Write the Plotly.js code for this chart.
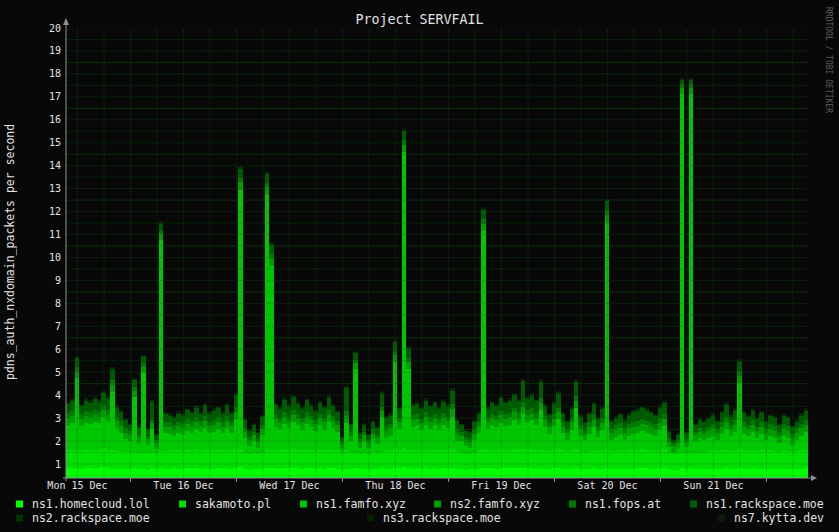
<!DOCTYPE html>
<html><head><meta charset="utf-8">
<script src="https://cdn.plot.ly/plotly-3.0.1.min.js"></script>
<style>html,body{margin:0;padding:0;background:#080808;}#chart{width:839px;height:532px;}</style>
</head><body><div id="chart"></div>
<script>
// ---------------- DATA ----------------
const seriesNames = ['ns1.homecloud.lol','sakamoto.pl','ns1.famfo.xyz','ns2.famfo.xyz','ns1.fops.at','ns1.rackspace.moe','ns2.rackspace.moe','ns3.rackspace.moe','ns7.kytta.dev'];
const dayLabels = ['Mon 15 Dec','Tue 16 Dec','Wed 17 Dec','Thu 18 Dec','Fri 19 Dec','Sat 20 Dec','Sun 21 Dec'];
const yTickLabels = ['1','2','3','4','5','6','7','8','9','10','11','12','13','14','15','16','17','18','19','20'];

// hourly values (packets/s), starting Mon 15 Dec 09:24
const homecloud = [
0.82,0.80,0.84,0.79,0.81,0.83,0.80,0.82,0.85,0.81,0.80,0.78,
0.79,0.77,0.80,0.82,0.78,0.80,0.76,0.81,0.78,0.84,0.80,0.79,
0.81,0.80,0.78,0.82,0.80,0.83,0.79,0.81,0.80,0.78,0.82,0.80,
0.81,0.79,0.83,0.85,0.78,0.76,0.79,0.77,0.80,0.84,0.82,0.81,
0.80,0.83,0.81,0.84,0.82,0.80,0.83,0.81,0.79,0.82,0.80,0.84,
0.81,0.79,0.76,0.80,0.78,0.82,0.77,0.79,0.76,0.80,0.78,0.81,
0.80,0.79,0.83,0.81,0.86,0.82,0.80,0.82,0.79,0.81,0.80,0.82,
0.79,0.81,0.80,0.83,0.79,0.78,0.76,0.77,0.79,0.80,0.84,0.81,
0.82,0.80,0.83,0.81,0.82,0.84,0.81,0.83,0.82,0.84,0.80,0.83,
0.80,0.78,0.81,0.83,0.79,0.77,0.80,0.82,0.78,0.77,0.79,0.81,
0.78,0.80,0.84,0.77,0.79,0.80,0.78,0.79,0.80,0.81,0.82,0.81,
0.80,0.79,0.81,0.82,0.77,0.75,0.76,0.82,0.77,0.83,0.78,0.79,
0.78,0.79,0.80,0.78,0.80,0.82,0.79,0.80,0.83,0.80,0.79,0.81,
0.79,0.80,0.78,0.80,0.79,0.77,0.80,0.79,0.77,0.78,0.80,0.81];
const sakamoto = [
0.80,0.82,0.79,0.81,0.83,0.80,0.82,0.81,0.84,0.82,0.80,0.79,
0.78,0.76,0.72,0.70,0.71,0.69,0.70,0.72,0.68,0.71,0.78,0.80,
0.79,0.81,0.80,0.82,0.80,0.81,0.79,0.82,0.80,0.81,0.80,0.79,
0.82,0.80,0.83,0.81,0.72,0.69,0.71,0.68,0.72,0.80,0.81,0.82,
0.81,0.83,0.80,0.82,0.81,0.80,0.83,0.81,0.79,0.82,0.80,0.83,
0.81,0.80,0.69,0.80,0.71,0.70,0.68,0.71,0.69,0.72,0.70,0.73,
0.79,0.80,0.81,0.80,0.82,0.81,0.80,0.82,0.80,0.81,0.79,0.82,
0.80,0.81,0.80,0.83,0.78,0.71,0.69,0.68,0.72,0.79,0.81,0.80,
0.81,0.80,0.82,0.81,0.80,0.83,0.81,0.84,0.82,0.81,0.80,0.83,
0.80,0.79,0.81,0.82,0.80,0.78,0.80,0.82,0.79,0.71,0.78,0.80,
0.79,0.80,0.81,0.78,0.79,0.80,0.78,0.80,0.81,0.80,0.82,0.81,
0.80,0.79,0.81,0.82,0.71,0.68,0.69,0.70,0.70,0.71,0.72,0.71,
0.72,0.78,0.79,0.77,0.80,0.81,0.78,0.80,0.81,0.79,0.78,0.80,
0.78,0.79,0.77,0.79,0.78,0.76,0.79,0.78,0.76,0.77,0.79,0.80];
const famfo1 = [
1.10,1.15,3.10,1.05,1.15,1.10,1.20,1.15,1.35,1.20,2.55,1.00,
0.80,0.55,0.50,2.40,0.40,3.50,0.35,1.00,0.20,9.20,0.75,0.70,
0.60,0.75,0.70,0.80,0.75,0.90,0.80,0.95,0.75,0.80,0.90,0.75,
0.95,0.75,1.30,11.30,0.65,0.35,0.50,0.25,0.75,11.10,8.00,1.00,
0.90,1.10,0.95,1.15,1.05,0.90,1.10,1.00,0.85,1.05,0.90,1.15,
0.95,0.80,0.15,1.20,0.50,3.60,0.25,0.50,0.20,0.55,0.40,1.50,
0.55,0.65,3.80,0.90,12.90,3.50,1.00,1.05,0.90,1.10,0.95,1.05,
0.90,1.10,0.95,1.40,0.45,0.50,0.35,0.25,0.55,0.75,9.50,0.90,
1.05,1.00,1.15,1.05,1.10,1.25,1.10,1.50,1.20,1.25,1.10,1.70,
1.00,0.75,1.05,1.30,0.75,0.50,0.90,1.80,0.65,0.55,0.75,1.00,
0.60,0.90,9.90,0.50,0.60,0.65,0.50,0.65,0.70,0.75,0.80,0.75,
0.70,0.65,0.85,1.00,0.25,0.10,0.20,15.60,0.25,15.60,0.50,0.65,
0.55,0.55,0.65,0.50,0.70,0.90,0.65,0.80,2.90,0.70,0.65,0.80,
0.55,0.70,0.50,0.65,0.55,0.40,0.65,0.55,0.30,0.50,0.65,0.80];
const famfo2 = [
0.30,0.32,0.29,0.31,0.30,0.33,0.31,0.29,0.32,0.30,0.31,0.30,
0.29,0.28,0.25,0.26,0.24,0.25,0.26,0.24,0.25,0.26,0.30,0.31,
0.30,0.29,0.31,0.30,0.32,0.30,0.29,0.31,0.30,0.32,0.30,0.29,
0.31,0.30,0.32,0.31,0.26,0.24,0.25,0.24,0.26,0.31,0.30,0.32,
0.30,0.31,0.29,0.32,0.30,0.31,0.30,0.29,0.31,0.30,0.32,0.30,
0.31,0.29,0.24,0.30,0.25,0.26,0.24,0.25,0.26,0.24,0.25,0.27,
0.30,0.31,0.29,0.30,0.32,0.30,0.31,0.29,0.30,0.32,0.30,0.31,
0.30,0.29,0.31,0.32,0.29,0.25,0.24,0.26,0.25,0.30,0.31,0.30,
0.31,0.30,0.32,0.30,0.31,0.33,0.30,0.32,0.31,0.30,0.32,0.31,
0.30,0.29,0.31,0.30,0.29,0.30,0.31,0.32,0.29,0.25,0.30,0.31,
0.29,0.30,0.31,0.29,0.30,0.31,0.30,0.31,0.32,0.31,0.32,0.31,
0.30,0.31,0.30,0.32,0.25,0.24,0.25,0.26,0.24,0.26,0.25,0.26,
0.25,0.30,0.31,0.29,0.30,0.32,0.30,0.31,0.30,0.31,0.29,0.30,
0.30,0.31,0.29,0.30,0.31,0.29,0.30,0.31,0.29,0.30,0.31,0.30];
const fops = [
0.20,0.21,0.19,0.20,0.22,0.20,0.21,0.19,0.20,0.22,0.20,0.19,
0.20,0.19,0.15,0.16,0.14,0.15,0.16,0.15,0.14,0.16,0.20,0.21,
0.19,0.20,0.21,0.20,0.19,0.21,0.20,0.22,0.20,0.19,0.21,0.20,
0.21,0.20,0.22,0.20,0.16,0.14,0.15,0.14,0.16,0.20,0.21,0.20,
0.20,0.21,0.20,0.22,0.20,0.19,0.21,0.20,0.19,0.21,0.20,0.22,
0.20,0.19,0.14,0.20,0.15,0.16,0.14,0.15,0.14,0.16,0.15,0.16,
0.20,0.21,0.20,0.19,0.21,0.20,0.22,0.20,0.19,0.21,0.20,0.20,
0.21,0.20,0.19,0.22,0.20,0.15,0.14,0.15,0.16,0.20,0.21,0.20,
0.20,0.21,0.20,0.22,0.21,0.20,0.22,0.21,0.20,0.22,0.21,0.20,
0.21,0.19,0.20,0.21,0.20,0.19,0.20,0.21,0.20,0.15,0.19,0.20,
0.20,0.21,0.20,0.19,0.20,0.21,0.20,0.21,0.22,0.21,0.22,0.20,
0.21,0.20,0.22,0.21,0.15,0.14,0.15,0.16,0.14,0.15,0.16,0.15,
0.16,0.20,0.21,0.20,0.21,0.22,0.20,0.21,0.20,0.21,0.20,0.21,
0.20,0.21,0.19,0.20,0.21,0.19,0.20,0.21,0.19,0.20,0.21,0.20];
const rackspace1 = [
0.40,0.45,0.40,0.35,0.45,0.40,0.50,0.45,0.55,0.50,0.45,0.40,
0.40,0.35,0.30,0.30,0.30,0.30,0.25,0.80,0.20,0.30,0.35,0.30,
0.30,0.35,0.30,0.40,0.35,0.40,0.30,0.45,0.35,0.40,0.40,0.35,
0.45,0.35,0.50,0.40,0.35,0.25,0.30,0.25,0.35,0.40,0.40,0.40,
0.40,0.50,0.45,0.55,0.45,0.40,0.50,0.40,0.35,0.45,0.40,0.55,
0.45,0.40,0.15,1.00,0.30,0.30,0.25,0.30,0.20,0.35,0.30,0.60,
0.35,0.35,0.40,0.40,0.40,0.40,0.40,0.45,0.40,0.50,0.45,0.45,
0.40,0.50,0.45,0.60,0.35,0.30,0.25,0.25,0.35,0.35,0.40,0.40,
0.45,0.40,0.55,0.45,0.50,0.55,0.50,0.90,0.50,0.55,0.50,0.70,
0.40,0.35,0.45,0.60,0.35,0.30,0.40,0.60,0.35,0.35,0.35,0.50,
0.30,0.40,0.40,0.30,0.30,0.35,0.30,0.35,0.40,0.45,0.45,0.45,
0.40,0.35,0.45,0.50,0.25,0.10,0.20,0.20,0.25,0.20,0.30,0.35,
0.35,0.35,0.35,0.30,0.40,0.50,0.35,0.40,0.40,0.40,0.35,0.40,
0.35,0.40,0.30,0.35,0.35,0.30,0.35,0.35,0.30,0.30,0.35,0.40];
const rackspace2 = [
0.05,0.06,0.05,0.04,0.06,0.05,0.05,0.06,0.04,0.05,0.06,0.05,
0.05,0.04,0.04,0.05,0.04,0.03,0.04,0.05,0.04,0.05,0.05,0.06,
0.05,0.04,0.06,0.05,0.05,0.06,0.04,0.05,0.05,0.06,0.05,0.04,
0.06,0.05,0.05,0.06,0.04,0.04,0.03,0.04,0.05,0.05,0.06,0.05,
0.05,0.06,0.05,0.05,0.04,0.06,0.05,0.05,0.06,0.04,0.05,0.06,
0.05,0.04,0.03,0.05,0.04,0.04,0.03,0.04,0.04,0.05,0.04,0.05,
0.05,0.06,0.05,0.04,0.05,0.05,0.06,0.05,0.04,0.06,0.05,0.05,
0.06,0.05,0.05,0.06,0.05,0.04,0.03,0.04,0.04,0.05,0.05,0.06,
0.05,0.06,0.05,0.05,0.06,0.05,0.06,0.05,0.05,0.06,0.05,0.06,
0.05,0.04,0.05,0.06,0.05,0.04,0.05,0.06,0.05,0.04,0.05,0.05,
0.04,0.05,0.05,0.04,0.05,0.05,0.04,0.05,0.06,0.05,0.05,0.06,
0.05,0.05,0.06,0.05,0.04,0.03,0.04,0.04,0.03,0.04,0.04,0.05,
0.04,0.05,0.05,0.04,0.05,0.06,0.05,0.05,0.05,0.06,0.05,0.05,
0.05,0.04,0.05,0.05,0.04,0.05,0.05,0.04,0.04,0.05,0.05,0.06];
const rackspace3 = [
0.03,0.03,0.04,0.03,0.02,0.03,0.04,0.03,0.03,0.04,0.03,0.03,
0.03,0.02,0.02,0.03,0.02,0.02,0.03,0.02,0.02,0.03,0.03,0.03,
0.03,0.04,0.03,0.03,0.02,0.03,0.03,0.04,0.03,0.03,0.04,0.03,
0.03,0.03,0.04,0.03,0.02,0.02,0.03,0.02,0.03,0.03,0.04,0.03,
0.03,0.04,0.03,0.03,0.04,0.03,0.03,0.04,0.03,0.03,0.04,0.03,
0.03,0.03,0.02,0.03,0.02,0.03,0.02,0.02,0.02,0.03,0.02,0.03,
0.03,0.03,0.04,0.03,0.04,0.03,0.03,0.04,0.03,0.03,0.03,0.04,
0.03,0.04,0.03,0.04,0.03,0.02,0.02,0.02,0.03,0.03,0.04,0.03,
0.03,0.04,0.03,0.03,0.04,0.03,0.04,0.03,0.03,0.04,0.03,0.04,
0.03,0.03,0.04,0.03,0.03,0.02,0.03,0.04,0.03,0.02,0.03,0.03,
0.03,0.03,0.04,0.02,0.03,0.03,0.03,0.03,0.04,0.03,0.03,0.04,
0.03,0.03,0.04,0.03,0.02,0.02,0.02,0.03,0.02,0.03,0.02,0.03,
0.02,0.03,0.03,0.03,0.03,0.04,0.03,0.03,0.04,0.03,0.03,0.03,
0.03,0.03,0.02,0.03,0.03,0.02,0.03,0.03,0.02,0.03,0.03,0.04];
const kytta = [
0.02,0.02,0.01,0.02,0.02,0.03,0.02,0.02,0.02,0.01,0.02,0.02,
0.02,0.01,0.01,0.02,0.01,0.01,0.02,0.01,0.01,0.02,0.02,0.02,
0.02,0.02,0.03,0.02,0.02,0.02,0.01,0.02,0.02,0.03,0.02,0.02,
0.02,0.02,0.02,0.03,0.01,0.01,0.01,0.02,0.01,0.02,0.02,0.02,
0.02,0.02,0.03,0.02,0.02,0.02,0.02,0.03,0.02,0.02,0.02,0.03,
0.02,0.02,0.01,0.02,0.01,0.02,0.01,0.01,0.01,0.02,0.01,0.02,
0.02,0.02,0.02,0.02,0.03,0.02,0.02,0.02,0.02,0.03,0.02,0.02,
0.02,0.02,0.03,0.02,0.02,0.01,0.01,0.01,0.02,0.02,0.02,0.02,
0.02,0.03,0.02,0.02,0.02,0.03,0.02,0.02,0.03,0.02,0.02,0.02,
0.02,0.02,0.02,0.03,0.02,0.01,0.02,0.02,0.02,0.01,0.02,0.02,
0.02,0.02,0.02,0.01,0.02,0.02,0.02,0.02,0.02,0.03,0.02,0.02,
0.02,0.02,0.02,0.02,0.01,0.01,0.01,0.02,0.01,0.02,0.01,0.02,
0.01,0.02,0.02,0.02,0.02,0.02,0.02,0.02,0.03,0.02,0.02,0.02,
0.02,0.02,0.01,0.02,0.02,0.02,0.02,0.02,0.01,0.02,0.02,0.02];

// ---------------- STYLE / LAYOUT ----------------
const seriesColors = ['#00ff00','#00e000','#00c800','#009e00','#007a00','#005a00','#003400','#002200','#0c190c'];
const FONT = 'DejaVu Sans Mono';
const BG = '#080808';
const TXT = '#e2e2e2';
const HOUR = 3600000;
const START = Date.UTC(2025, 11, 15, 9, 24);
const END = START + 168 * HOUR;
const PL = 66, PR = 808, PT = 28, PB = 478;
const px2x = p => (p - PL) / (PR - PL);
const py2y = p => (PB - p) / (PB - PT);

const series = [homecloud, sakamoto, famfo1, famfo2, fops, rackspace1, rackspace2, rackspace3, kytta];
const times = homecloud.map((_, i) => START + (i + 0.5) * HOUR);

const traces = series.map((vals, i) => ({
  type: 'bar', x: times, y: vals, width: HOUR, name: seriesNames[i],
  marker: {color: seriesColors[i], line: {width: 0}},
  showlegend: false, hoverinfo: 'skip'
}));

const shapes = [];
const gridMinor = 'rgba(0,95,0,0.55)';
const gridMajor = 'rgba(0,150,0,0.55)';
// vertical grid every 6 hours
for (let t = Date.UTC(2025, 11, 15, 12); t < END; t += 6 * HOUR) {
  shapes.push({type: 'line', xref: 'x', yref: 'paper', x0: t, x1: t, y0: 0, y1: 1, layer: 'above',
    line: {color: gridMinor, width: 1, dash: '1px,1px'}});
}
// horizontal grid every 0.5, brighter every 2 starting at 0.5
for (let k = 1; k <= 40; k++) {
  const v = k * 0.5;
  const major = ((k - 1) % 4 === 0);
  shapes.push({type: 'line', xref: 'paper', yref: 'y', x0: 0, x1: 1, y0: v, y1: v, layer: 'above',
    line: {color: major ? gridMajor : gridMinor, width: 1, dash: '1px,1px'}});
}
// day ticks below x axis
for (let d = 16; d <= 22; d++) {
  const t = Date.UTC(2025, 11, d, 0);
  shapes.push({type: 'line', xref: 'x', yref: 'paper', x0: t, x1: t, y0: 0, y1: py2y(482), layer: 'above',
    line: {color: '#909090', width: 1}});
}
// axis lines with arrows
const axisCol = '#909090';
shapes.push({type: 'line', xref: 'paper', yref: 'paper', x0: px2x(66), x1: px2x(66), y0: py2y(481), y1: py2y(22), layer: 'above', line: {color: axisCol, width: 1}});
shapes.push({type: 'line', xref: 'paper', yref: 'paper', x0: px2x(63), x1: px2x(812), y0: py2y(478), y1: py2y(478), layer: 'above', line: {color: axisCol, width: 1}});
shapes.push({type: 'path', xref: 'paper', yref: 'paper', layer: 'above', fillcolor: axisCol, line: {width: 0},
  path: `M ${px2x(63)},${py2y(25)} L ${px2x(69)},${py2y(25)} L ${px2x(66)},${py2y(18)} Z`});
shapes.push({type: 'path', xref: 'paper', yref: 'paper', layer: 'above', fillcolor: axisCol, line: {width: 0},
  path: `M ${px2x(811)},${py2y(475)} L ${px2x(811)},${py2y(481)} L ${px2x(817)},${py2y(478)} Z`});

// legend (manual, rrdtool-style)
const legendPos = [[16,504],[179,504],[300,504],[434,504],[569,504],[690,504],[16,518],[367,518],[718,518]];
const annotations = [];
seriesNames.forEach((n, i) => {
  const [sx, sy] = legendPos[i];
  shapes.push({type: 'rect', xref: 'paper', yref: 'paper', x0: px2x(sx), x1: px2x(sx + 7), y0: py2y(sy + 3.5), y1: py2y(sy - 3.5),
    fillcolor: seriesColors[i], line: {width: 0}});
  annotations.push({xref: 'paper', yref: 'paper', x: px2x(sx + 14), y: py2y(sy), xanchor: 'left', yanchor: 'middle',
    text: n, showarrow: false, font: {family: FONT, size: 11.5, color: TXT}});
});
annotations.push({xref: 'paper', yref: 'paper', x: px2x(10), y: py2y(252), xanchor: 'center', yanchor: 'middle',
  text: 'pdns_auth_nxdomain_packets per second', textangle: -90, showarrow: false, font: {family: FONT, size: 11.5, color: TXT}});
annotations.push({xref: 'paper', yref: 'paper', x: px2x(829), y: py2y(60), xanchor: 'center', yanchor: 'middle',
  text: 'RRDTOOL / TOBI OETIKER', textangle: 90, showarrow: false, font: {family: FONT, size: 8, color: '#5e5e5e'}});

const layout = {
  width: 839, height: 532,
  margin: {l: PL, r: 839 - PR, t: PT, b: 532 - PB, pad: 0},
  paper_bgcolor: BG, plot_bgcolor: BG,
  barmode: 'stack', bargap: 0, showlegend: false, hovermode: false,
  title: {text: 'Project SERVFAIL', font: {family: FONT, size: 13.3, color: TXT},
    x: 0.5, xref: 'container', xanchor: 'center', y: 1 - 19 / 532, yref: 'container', yanchor: 'middle'},
  xaxis: {type: 'date', range: [START, END], tickmode: 'array',
    tickvals: dayLabels.map((_, i) => Date.UTC(2025, 11, 15 + i, 12)), ticktext: dayLabels,
    ticks: '', showgrid: false, zeroline: false, showline: false, fixedrange: true,
    tickfont: {family: FONT, size: 10, color: TXT}},
  yaxis: {range: [0.39, 20], tickmode: 'array', tickvals: yTickLabels.map(Number), ticktext: yTickLabels,
    ticks: '', showgrid: false, zeroline: false, showline: false, fixedrange: true, ticklabelstandoff: 4,
    tickfont: {family: FONT, size: 10, color: TXT}},
  shapes: shapes, annotations: annotations
};

Plotly.newPlot('chart', traces, layout, {displayModeBar: false, staticPlot: true});
</script></body></html>
